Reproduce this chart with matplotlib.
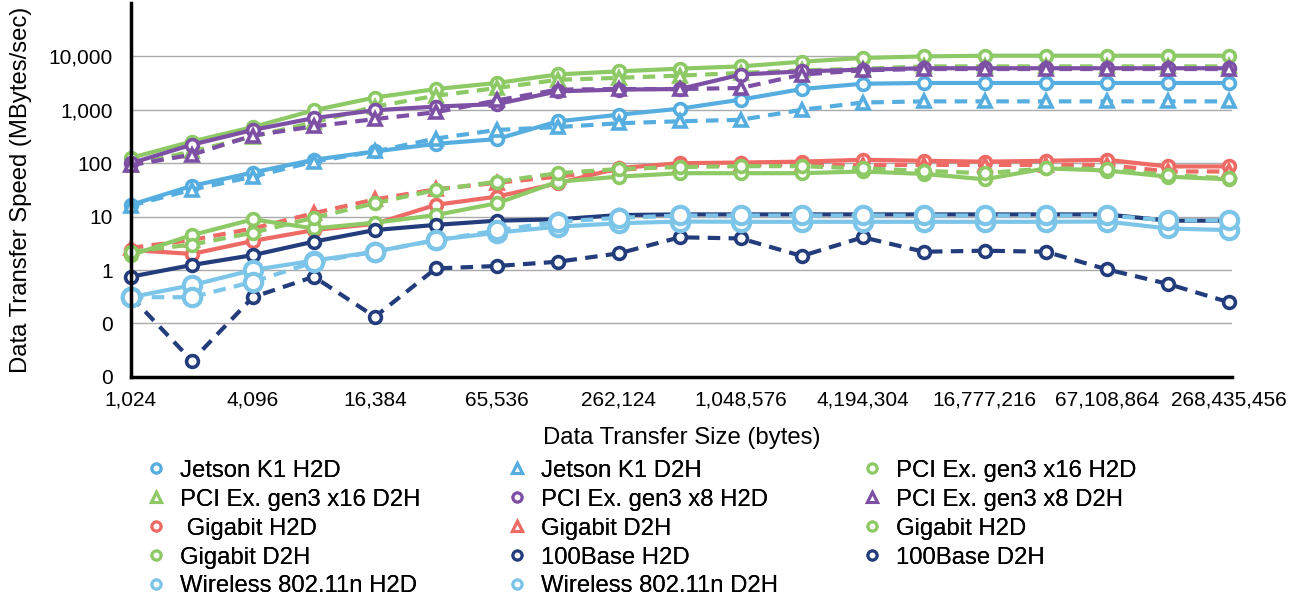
import matplotlib
matplotlib.use("Agg")
import matplotlib.pyplot as plt
from matplotlib.lines import Line2D
from matplotlib.ticker import FixedLocator, FuncFormatter

plt.rcParams["font.family"] = ["Liberation Sans", "DejaVu Sans"]

# transfer sizes (bytes), one category per point
sizes = [1024, 2048, 4096, 8192, 16384, 32768, 65536, 131072, 262144, 524288,
         1048576, 2097152, 4194304, 8388608, 16777216, 33554432, 67108864,
         134217728, 268435456]
tick_labels = ["1,024", "4,096", "16,384", "65,536", "262,124", "1,048,576",
               "4,194,304", "16,777,216", "67,108,864", "268,435,456"]

# speeds in MBytes/sec
jetson_h2d = [16.6, 37.6, 67, 116, 166, 231, 283, 607, 810, 1050, 1550, 2450, 3080,
              3180, 3180, 3180, 3180, 3180, 3180]
jetson_d2h = [16, 32, 56, 107, 166, 290, 420, 475, 560, 610, 650, 1000, 1370,
              1440, 1440, 1440, 1440, 1440, 1440]
pci16_h2d = [126, 255, 475, 980, 1700, 2450, 3180, 4600, 5250, 5900, 6500, 7960, 9350,
             10000, 10300, 10300, 10300, 10300, 10300]
pci16_d2h = [92, 166, 316, 580, 1150, 1830, 2560, 3650, 3970, 4370, 4900, 5500, 5850,
             6500, 6500, 6500, 6500, 6500, 6500]
pci8_h2d = [100, 222, 420, 700, 980, 1150, 1280, 2220, 2390, 2450, 4570, 5250, 5640,
            6000, 6000, 6000, 6000, 6000, 6000]
pci8_d2h = [92, 144, 330, 490, 670, 900, 1500, 2390, 2450, 2450, 2560, 4570, 5500,
            5800, 5800, 5800, 5800, 5800, 5800]
gig_h2d = [2.37, 2.0, 3.5, 5.6, 7.3, 16.6, 23.7, 42, 81, 100, 103, 107, 116,
           111, 107, 111, 116, 87, 87]
gig_d2h = [2.6, 3.65, 6.0, 11.6, 21, 32.5, 43, 56, 75, 90, 93, 93, 93,
           93, 93, 93, 93, 70, 70]
gig2_h2d = [1.9, 4.5, 8.9, 6.0, 7.7, 10.7, 17.8, 45, 56, 65, 65, 65, 70,
            63, 50, 80, 73, 56, 50]
gig2_d2h = [2.2, 3.0, 5.0, 9.5, 17.8, 31.6, 45, 65, 78, 85, 88, 88, 80,
            72, 65, 80, 78, 60, 52]
base_h2d = [0.75, 1.24, 1.9, 3.4, 5.6, 7.0, 8.4, 8.9, 10.7, 11.0, 11.0, 11.0, 11.0,
            11.0, 11.0, 11.0, 11.0, 8.4, 8.4]
base_d2h = [0.32, 0.020, 0.31, 0.75, 0.133, 1.07, 1.19, 1.43, 2.05, 4.1, 3.9, 1.83, 4.1,
            2.2, 2.3, 2.2, 1.03, 0.55, 0.25]
wifi_h2d = [0.31, 0.52, 1.0, 1.5, 2.2, 3.65, 5.0, 6.5, 7.5, 8.1, 8.0, 8.0, 8.0,
            8.0, 8.0, 8.0, 8.1, 6.0, 5.6]
wifi_d2h = [0.31, 0.31, 0.60, 1.4, 2.2, 3.6, 5.5, 8.0, 9.5, 10.5, 10.5, 10.5, 10.5,
            10.5, 10.5, 10.5, 10.5, 8.5, 8.5]

JETSON = "#55AEDF"
GREEN = "#8DC964"
PURPLE = "#7E50A5"
RED = "#EE6A65"
NAVY = "#233C7B"
WIFI = "#7CC5E8"

# (label, values, color, marker, dashed, big)
series = [
    ("Jetson K1 H2D", jetson_h2d, JETSON, "o", False, False),
    ("Jetson K1 D2H", jetson_d2h, JETSON, "^", True, False),
    ("PCI Ex. gen3 x16 H2D", pci16_h2d, GREEN, "o", False, False),
    ("PCI Ex. gen3 x16 D2H", pci16_d2h, GREEN, "^", True, False),
    ("PCI Ex. gen3 x8 H2D", pci8_h2d, PURPLE, "o", False, False),
    ("PCI Ex. gen3 x8 D2H", pci8_d2h, PURPLE, "^", True, False),
    (" Gigabit H2D", gig_h2d, RED, "o", False, False),
    ("Gigabit D2H", gig_d2h, RED, "^", True, False),
    ("Gigabit H2D", gig2_h2d, GREEN, "o", False, False),
    ("Gigabit D2H", gig2_d2h, GREEN, "o", True, False),
    ("100Base H2D", base_h2d, NAVY, "o", False, False),
    ("100Base D2H", base_d2h, NAVY, "o", True, False),
    ("Wireless 802.11n H2D", wifi_h2d, WIFI, "o", False, True),
    ("Wireless 802.11n D2H", wifi_d2h, WIFI, "o", True, True),
]

fig = plt.figure(figsize=(13.09, 6.01), dpi=100)
ax = fig.add_axes([0.100, 0.373, 0.841, 0.622])

xs = list(range(len(sizes)))
handles = []
for label, vals, color, marker, dashed, big in series:
    ms = 12.5 if big else (9 if marker == "^" else 8.5)
    kw = dict(color=color, lw=3, marker=marker, ms=ms, mfc="white", mec=color,
              mew=3 if big else 2.6, clip_on=False)
    if dashed:
        kw["dashes"] = (3, 2)
    ax.plot(xs, vals, **kw)
    handles.append(Line2D([], [], ls="none", marker=marker, ms=6.5, mfc="white",
                          mec=color, mew=2.2, label=label))

ax.set_yscale("log")
ax.set_ylim(0.01, 1e5)
ax.set_xlim(0, 18.05)
ax.yaxis.set_major_locator(FixedLocator([0.01, 0.1, 1, 10, 100, 1000, 10000]))
ax.yaxis.set_minor_locator(FixedLocator([]))
ax.yaxis.set_major_formatter(FuncFormatter(lambda v, p: "0" if v < 1 else f"{v:,.0f}"))
ax.set_xticks(xs[::2])
ax.set_xticklabels(tick_labels)

ax.grid(axis="y", color="#AAAAAA", lw=1)
ax.set_axisbelow(True)
for side in ("top", "right"):
    ax.spines[side].set_visible(False)
for side in ("left", "bottom"):
    ax.spines[side].set_linewidth(2.5)
    ax.spines[side].set_color("black")
ax.tick_params(axis="both", length=0, labelsize=15)
ax.tick_params(axis="y", pad=13)
ax.tick_params(axis="x", pad=10)

ax.set_xlabel("Data Transfer Size (bytes)", fontsize=17.2)
ax.xaxis.set_label_coords(0.5, -0.135)
ax.set_ylabel("Data Transfer Speed (MBytes/sec)", fontsize=17.2)
ax.yaxis.set_label_coords(-0.090, 0.5)

# legend laid out row by row in three columns
col_x = [0.112, 0.3878, 0.659]
for c in range(3):
    col = handles[c::3]
    leg = fig.legend(handles=col, loc="upper left", bbox_to_anchor=(col_x[c], 0.235),
                     frameon=False, fontsize=17.2, handlelength=0.8, handletextpad=0.6,
                     labelspacing=0.29, borderpad=0, borderaxespad=0)
    fig.add_artist(leg)

fig.savefig("out.png", dpi=100)
